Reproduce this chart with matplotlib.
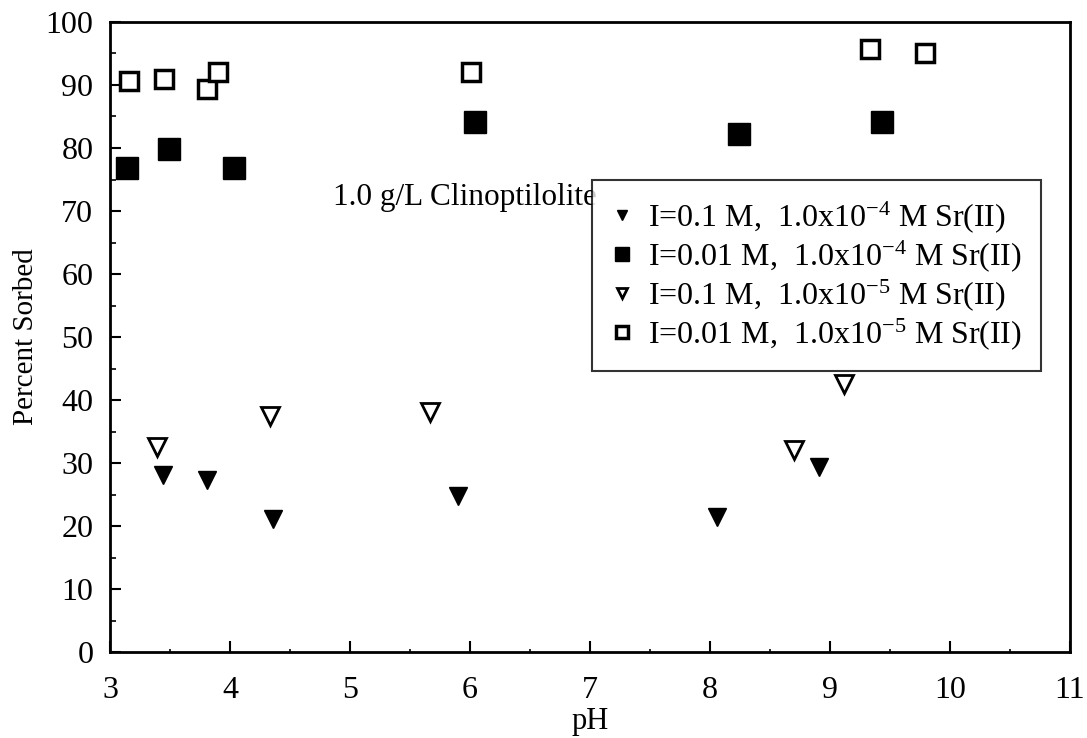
import matplotlib
matplotlib.use("Agg")
import matplotlib.pyplot as plt
from matplotlib.ticker import MultipleLocator

plt.rcParams['font.family'] = ['Liberation Serif', 'DejaVu Serif']
plt.rcParams['mathtext.fontset'] = 'custom'
plt.rcParams['mathtext.rm'] = 'Liberation Serif'
plt.rcParams['mathtext.it'] = 'Liberation Serif:italic'
plt.rcParams['mathtext.bf'] = 'Liberation Serif:bold'

# I = 0.1 M, 1.0e-4 M Sr(II)
ph_a = [3.44, 3.81, 4.36, 5.90, 8.06, 8.91]
sorbed_a = [28.1, 27.3, 21.1, 24.7, 21.4, 29.3]

# I = 0.01 M, 1.0e-4 M Sr(II)
ph_b = [3.14, 3.49, 4.03, 6.04, 8.24, 9.43]
sorbed_b = [76.8, 79.8, 76.8, 84.1, 82.2, 84.1]

# I = 0.1 M, 1.0e-5 M Sr(II)
ph_c = [3.39, 4.33, 5.67, 8.70, 9.12]
sorbed_c = [32.6, 37.5, 38.1, 32.0, 42.6]

# I = 0.01 M, 1.0e-5 M Sr(II)
ph_d = [3.16, 3.45, 3.81, 3.90, 6.01, 9.33, 9.79]
sorbed_d = [90.6, 91.0, 89.4, 92.1, 92.0, 95.7, 95.0]

labels = [
    r'I=0.1 M,  1.0x10$^{\mathrm{-4}}$ M Sr(II)',
    r'I=0.01 M,  1.0x10$^{\mathrm{-4}}$ M Sr(II)',
    r'I=0.1 M,  1.0x10$^{\mathrm{-5}}$ M Sr(II)',
    r'I=0.01 M,  1.0x10$^{\mathrm{-5}}$ M Sr(II)',
]

x_ticks = list(range(3, 12))
y_ticks = list(range(0, 101, 10))

fig = plt.figure(figsize=(10.87, 7.38), dpi=100)
ax = fig.add_axes([0.1012, 0.1165, 0.8832, 0.8537])

ax.plot(ph_a, sorbed_a, linestyle='none', marker='v', markersize=13,
        color='black', label=labels[0])
ax.plot(ph_b, sorbed_b, linestyle='none', marker='s', markersize=16,
        color='black', label=labels[1])
ax.plot(ph_c, sorbed_c, linestyle='none', marker='v', markersize=13,
        markerfacecolor='white', markeredgecolor='black', markeredgewidth=2,
        label=labels[2])
ax.plot(ph_d, sorbed_d, linestyle='none', marker='s', markersize=13.5,
        markerfacecolor='white', markeredgecolor='black', markeredgewidth=2.5,
        label=labels[3])

ax.set_xlim(3, 11)
ax.set_ylim(0, 100)
ax.set_xticks(x_ticks)
ax.set_yticks(y_ticks)
ax.xaxis.set_minor_locator(MultipleLocator(0.5))
ax.yaxis.set_minor_locator(MultipleLocator(5))
ax.tick_params(axis='both', which='major', direction='in', length=8, width=1.5,
               labelsize=23, top=False, right=False)
ax.tick_params(axis='x', which='major', pad=17)
ax.tick_params(axis='y', which='major', pad=12)
ax.tick_params(axis='both', which='minor', direction='in', length=4, width=1.2,
               top=False, right=False)
ax.tick_params(axis='x', which='minor', length=2)

for side in ax.spines.values():
    side.set_linewidth(2)
    side.set_color('black')

ax.set_xlabel('pH', fontsize=22, labelpad=2)
ax.set_ylabel('Percent Sorbed', fontsize=21, labelpad=5)

ax.text(4.86, 72.1, '1.0 g/L Clinoptilolite', fontsize=22.5,
        ha='left', va='center')

leg = ax.legend(loc='upper left', bbox_to_anchor=(592 / 1087, 1 - 180 / 738),
                bbox_transform=fig.transFigure, fontsize=23, markerscale=0.6,
                frameon=True, fancybox=False, edgecolor='black',
                handlelength=0.7, handletextpad=0.45, borderpad=0.6,
                labelspacing=0.1, borderaxespad=0)
leg.get_frame().set_linewidth(1.5)

fig.savefig('out.png', dpi=100)
